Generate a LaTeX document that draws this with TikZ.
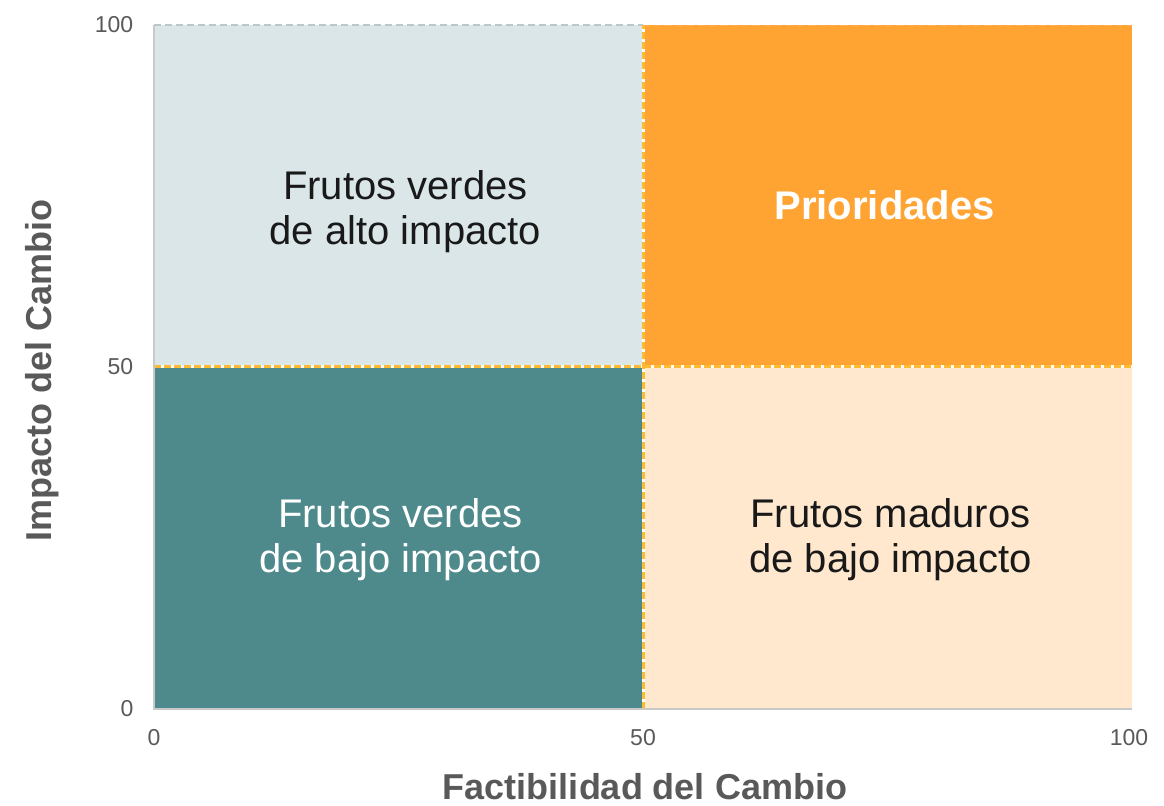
\documentclass[tikz,border=0pt]{standalone}
\usepackage{fontspec}
\setmainfont{Liberation Sans}
\begin{document}
\begin{tikzpicture}[x=9.78pt,y=6.84pt]
    \definecolor{qgreenhigh}{HTML}{DAE6E8}
    \definecolor{qprio}{HTML}{FFA333}
    \definecolor{qgreenlow}{HTML}{4E8A8C}
    \definecolor{qripe}{HTML}{FFE8CD}
    \definecolor{myaxis}{HTML}{C9C9C9}
    \definecolor{mytick}{HTML}{595959}
    \definecolor{mymid}{HTML}{FFBA33}
    \definecolor{mytop}{HTML}{B9C9CA}
    \tikzset{
        tick/.style={text=mytick, font=\fontsize{23}{26}\selectfont, inner sep=0pt},
        axtitle/.style={text=mytick, font=\fontsize{36}{40}\selectfont\bfseries, inner sep=0pt},
        quad/.style={align=center, font=\fontsize{40}{45}\selectfont, inner sep=0pt},
        midline/.style={mymid, line width=3pt, dash pattern=on 7pt off 3pt}
    }
    \useasboundingbox (-15.75,-14.18) rectangle (103.27,103.65);

    % quadrants
    \fill[qgreenhigh] (0,50) rectangle (50,100);
    \fill[qprio] (50,50) rectangle (100,100);
    \fill[qgreenlow] (0,0) rectangle (50,50);
    \fill[qripe] (50,0) rectangle (100,50);

    % frame and dividers
    \draw[mytop, line width=2pt, dash pattern=on 7pt off 4pt] (0,100) -- (50,100);
    \draw[white, opacity=0.15, line width=2pt, dash pattern=on 7pt off 4pt] (50,100) -- (100,100);
    \draw[white, line width=3pt] (50,0) -- (50,100);
    \draw[white, line width=3pt] (0,50) -- (100,50);
    \draw[midline] (50,0) -- (50,100);
    \draw[midline] (0,50) -- (100,50);
    \draw[myaxis, line width=1.5pt] (0,100) -- (0,0) -- (100,0);

    % ticks
    \node (y0) [tick, anchor=east] at (-2.1,0) {0};
    \node (y50) [tick, anchor=east] at (-2.1,50) {50};
    \node (y100) [tick, anchor=east] at (-2.1,100) {100};
    \node (x0) [tick] at (0,-4.2) {0};
    \node (x50) [tick] at (50,-4.2) {50};
    \node (x100) [tick] at (99.7,-4.2) {100};

    % axis titles
    \node (xtitle) [axtitle] at (50.2,-11.4) {Factibilidad del Cambio};
    \node (ytitle) [axtitle, rotate=90] at (-11.45,49.5) {Impacto del Cambio};

    % quadrant labels
    \node (verdesalto) [quad, text=black!90] at (25.7,72.7) {Frutos verdes\\de alto impacto};
    \node (prioridades) [quad, text=white, font=\fontsize{40}{45}\selectfont\bfseries] at (74.7,73.6) {Prioridades};
    \node (verdesbajo) [quad, text=white] at (25.2,24.8) {Frutos verdes\\de bajo impacto};
    \node (maduros) [quad, text=black!90] at (75.3,24.8) {Frutos maduros\\de bajo impacto};
\end{tikzpicture}
\end{document}
